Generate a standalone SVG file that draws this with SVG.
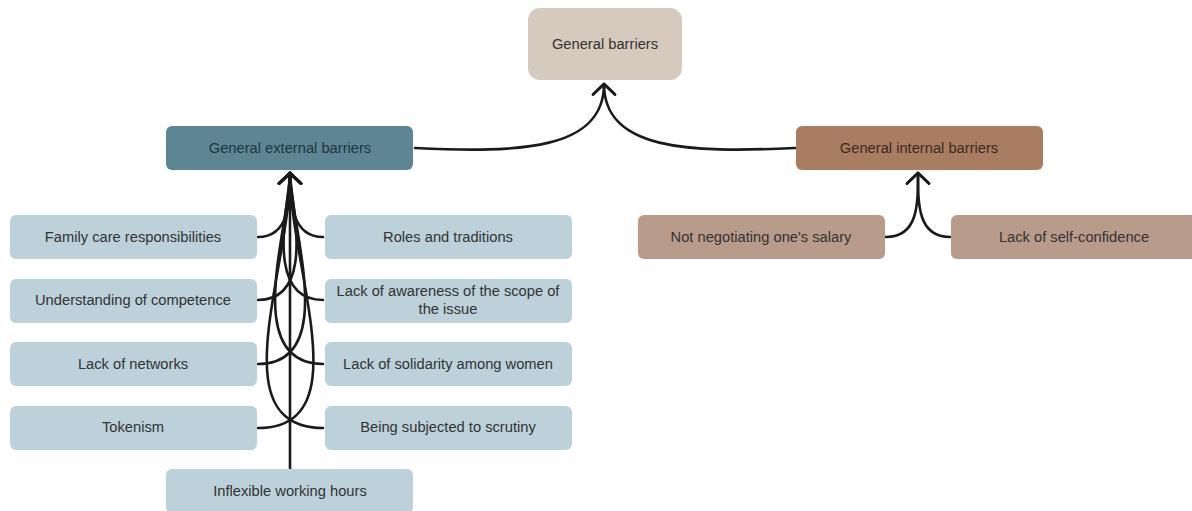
<svg xmlns="http://www.w3.org/2000/svg" width="1192" height="511" viewBox="0 0 1192 511">
  <style>
    text { font-family: "Liberation Sans", Arial, sans-serif; font-size: 14.7px; text-anchor: middle; dominant-baseline: central; fill: #333333; }
    .root rect { fill: #d6cabe; }
    .ext rect { fill: #5e8594; }
    .ext text { fill: #1f3540; }
    .int rect { fill: #a97d62; }
    .int text { fill: #3a2a22; }
    .leaf-ext rect { fill: #bcd1d9; }
    .leaf-int rect { fill: #b99b8b; }
    .edge { fill: none; stroke: #1a1a1a; stroke-width: 2.6; stroke-linecap: round; }
  </style>
  <defs>
    <marker id="chevron" markerUnits="userSpaceOnUse" viewBox="-14 -14 16 28" refX="0" refY="0" markerWidth="16" markerHeight="28" orient="auto" overflow="visible">
      <path d="M-10.5,-11 L0,0 L-10.5,11" fill="none" stroke="#1a1a1a" stroke-width="2.6" stroke-linecap="round" stroke-linejoin="round"/>
    </marker>
  </defs>

  <rect width="1192" height="511" fill="#ffffff"/>

  <!-- connectors -->
  <g id="connectors">
    <!-- main branches into the root -->
    <path class="edge" d="M415,148 C520,153 604,150 604,84" marker-end="url(#chevron)"/>
    <path class="edge" d="M795,148 C688,153 604,150 604,84" marker-end="url(#chevron)"/>
    <!-- external barriers, left column -->
    <path class="edge" d="M258,237 C290,237 290,200 290,173" marker-end="url(#chevron)"/>
    <path class="edge" d="M258,300 C318,300 290,200 290,173" marker-end="url(#chevron)"/>
    <path class="edge" d="M258,364 C340,364 290,225 290,173" marker-end="url(#chevron)"/>
    <path class="edge" d="M258,428 C360,428 290,270 290,173" marker-end="url(#chevron)"/>
    <!-- external barriers, right column -->
    <path class="edge" d="M323,237 C291,237 290,200 290,173" marker-end="url(#chevron)"/>
    <path class="edge" d="M323,300 C262,300 290,200 290,173" marker-end="url(#chevron)"/>
    <path class="edge" d="M323,364 C240,364 290,225 290,173" marker-end="url(#chevron)"/>
    <path class="edge" d="M323,428 C220,428 290,270 290,173" marker-end="url(#chevron)"/>
    <!-- external barriers, bottom -->
    <path class="edge" d="M290,468 L290,173" marker-end="url(#chevron)"/>
    <!-- internal barriers -->
    <path class="edge" d="M886,237 C918,237 918,205 918,173" marker-end="url(#chevron)"/>
    <path class="edge" d="M950,237 C918,237 918,205 918,173" marker-end="url(#chevron)"/>
  </g>

  <!-- root -->
  <g id="general-barriers" class="root">
    <rect x="528" y="8" width="154" height="72" rx="12"/>
    <text x="605" y="44">General barriers</text>
  </g>

  <!-- main categories -->
  <g id="general-external-barriers" class="ext">
    <rect x="166" y="126" width="247" height="44" rx="6"/>
    <text x="290" y="148">General external barriers</text>
  </g>
  <g id="general-internal-barriers" class="int">
    <rect x="796" y="126" width="247" height="44" rx="6"/>
    <text x="919" y="148">General internal barriers</text>
  </g>

  <!-- external barriers: left column -->
  <g id="family-care" class="leaf-ext">
    <rect x="10" y="215" width="247" height="44" rx="6"/>
    <text x="133" y="237">Family care responsibilities</text>
  </g>
  <g id="understanding-competence" class="leaf-ext">
    <rect x="10" y="279" width="247" height="44" rx="6"/>
    <text x="133" y="300">Understanding of competence</text>
  </g>
  <g id="lack-networks" class="leaf-ext">
    <rect x="10" y="342" width="247" height="44" rx="6"/>
    <text x="133" y="364">Lack of networks</text>
  </g>
  <g id="tokenism" class="leaf-ext">
    <rect x="10" y="406" width="247" height="44" rx="6"/>
    <text x="133" y="427">Tokenism</text>
  </g>

  <!-- external barriers: right column -->
  <g id="roles-traditions" class="leaf-ext">
    <rect x="325" y="215" width="247" height="44" rx="6"/>
    <text x="448" y="237">Roles and traditions</text>
  </g>
  <g id="lack-awareness" class="leaf-ext">
    <rect x="325" y="279" width="247" height="44" rx="6"/>
    <text x="448" y="291">Lack of awareness of the scope of</text>
    <text x="448" y="309">the issue</text>
  </g>
  <g id="lack-solidarity" class="leaf-ext">
    <rect x="325" y="342" width="247" height="44" rx="6"/>
    <text x="448" y="364">Lack of solidarity among women</text>
  </g>
  <g id="scrutiny" class="leaf-ext">
    <rect x="325" y="406" width="247" height="44" rx="6"/>
    <text x="448" y="427">Being subjected to scrutiny</text>
  </g>

  <!-- external barriers: bottom -->
  <g id="inflexible-hours" class="leaf-ext">
    <rect x="166" y="469" width="247" height="44" rx="6"/>
    <text x="290" y="491">Inflexible working hours</text>
  </g>

  <!-- internal barriers -->
  <g id="salary-negotiation" class="leaf-int">
    <rect x="638" y="215" width="247" height="44" rx="6"/>
    <text x="761" y="237">Not negotiating one's salary</text>
  </g>
  <g id="self-confidence" class="leaf-int">
    <rect x="951" y="215" width="247" height="44" rx="6"/>
    <text x="1074" y="237">Lack of self-confidence</text>
  </g>
</svg>
